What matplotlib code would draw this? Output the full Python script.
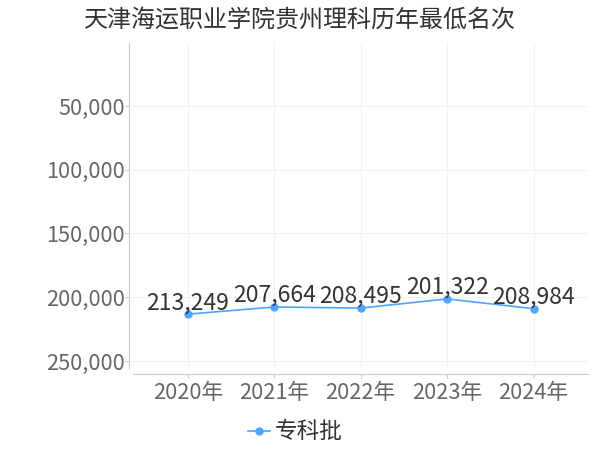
import matplotlib.pyplot as plt
from matplotlib.ticker import FuncFormatter
import numpy as np

plt.rcParams['font.family'] = ['Noto Sans CJK SC', 'DejaVu Sans']

years = ['2020年', '2021年', '2022年', '2023年', '2024年']
ranks = [213249, 207664, 208495, 201322, 208984]
series_name = '专科批'
title = '天津海运职业学院贵州理科历年最低名次'
yticks = [50000, 100000, 150000, 200000, 250000]

line_color = '#4da6ff'

fig = plt.figure(figsize=(6, 4.5), dpi=100)
# axes area: x 133..588, y 43..368 in pixels
ax = fig.add_axes([133 / 600, 1 - 368 / 450, 455 / 600, 325 / 450])

x = np.arange(len(years))
ax.plot(x, ranks, color=line_color, linewidth=1.2, marker='o', markersize=5,
        label=series_name, zorder=3)
for xi, v in zip(x, ranks):
    ax.annotate(f'{v:,}', (xi, v), xytext=(0, 0), textcoords='offset points',
                ha='center', va='bottom', fontsize=16.5, color='#333333', zorder=4)

ax.set_xlim(-0.635, 4.63)
ax.set_ylim(255500, 600)
ax.set_xticks(x)
ax.set_xticklabels(years)
ax.set_yticks(yticks)
ax.yaxis.set_major_formatter(FuncFormatter(lambda v, p: f'{int(v):,}'))

ax.grid(True, color='#f2f2f2', linewidth=0.8)
ax.set_axisbelow(True)
for s in ['top', 'right']:
    ax.spines[s].set_visible(False)
ax.spines['left'].set_color('#cccccc')
ax.spines['bottom'].set_color('#cccccc')
ax.spines['bottom'].set_position(('outward', 4))
ax.spines['left'].set_position(('outward', 3))
ax.tick_params(axis='both', colors='#cccccc', labelcolor='#666666', labelsize=15.7, length=3)
ax.tick_params(axis='y', pad=0)
ax.tick_params(axis='x', pad=3)

fig.text(0.5, 1 - 20 / 450, title, ha='center', va='center', fontsize=17.3, color='#333333')
fig.legend(loc='center', bbox_to_anchor=(0.492, 1 - 432 / 450), frameon=False, fontsize=16.3,
           handlelength=1.0, handletextpad=0.2, labelcolor='#333333')

fig.savefig('out.png')
